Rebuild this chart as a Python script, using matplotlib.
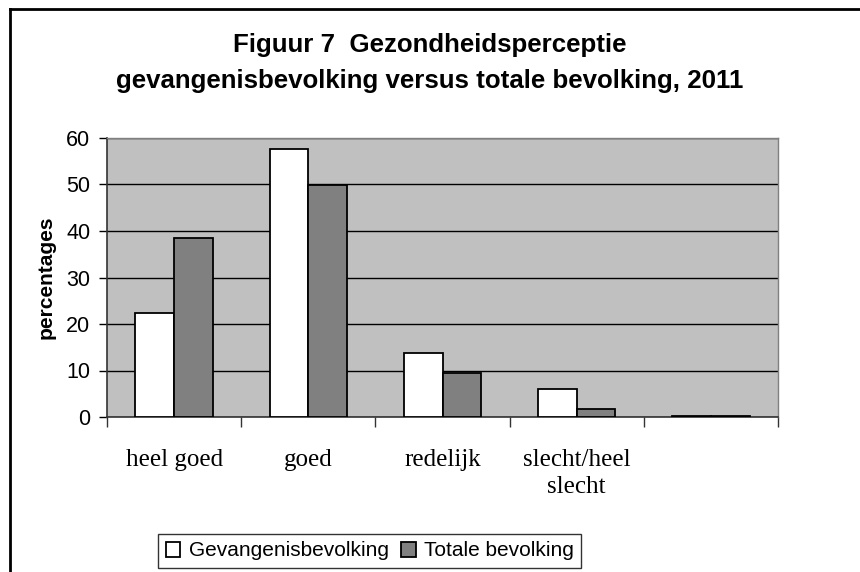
import matplotlib
matplotlib.use("Agg")
import matplotlib.pyplot as plt
import numpy as np
from matplotlib.lines import Line2D
from matplotlib.ticker import FixedLocator

categories = ["heel goed", "goed", "redelijk", "slecht/heel\nslecht", ""]
gevangenis = [22.3, 57.6, 13.8, 6.0, 0.3]
totaal = [38.5, 49.8, 9.5, 1.7, 0.3]
series_names = ["Gevangenisbevolking", "Totale bevolking"]
yticks = [0, 10, 20, 30, 40, 50, 60]

fig = plt.figure(figsize=(8.6, 5.72), dpi=100)
ax = fig.add_axes([107/860, 1-417/572, (778-107)/860, (417-138)/572])
ax.set_facecolor("#C0C0C0")

x = np.arange(len(categories))
w = 0.288
b1 = ax.bar(x - w/2, gevangenis, w, color="white", edgecolor="black", linewidth=1.3, zorder=3,
            label=series_names[0])
b2 = ax.bar(x + w/2, totaal, w, color="#808080", edgecolor="black", linewidth=1.3, zorder=3,
            label=series_names[1])

ax.set_xlim(-0.5, len(categories) - 0.5)
ax.set_ylim(0, 60)
ax.set_yticks(yticks)
ax.yaxis.grid(True, color="black", linewidth=1.0, zorder=1)
ax.set_axisbelow(True)

ax.set_xticks(x)
ax.set_xticklabels(categories, fontfamily="Liberation Serif", fontsize=18, linespacing=1.3)
ax.tick_params(axis="x", which="major", length=0, pad=23)
ax.xaxis.set_minor_locator(FixedLocator(np.arange(-0.5, len(categories), 1.0)))
ax.tick_params(axis="x", which="minor", length=7, width=1, color="#333333", direction="out")
ax.tick_params(axis="y", length=6, width=1, direction="out", pad=6, labelsize=15.5)
for lab in ax.get_yticklabels():
    lab.set_fontfamily("Liberation Sans")

for s in ["left", "bottom"]:
    ax.spines[s].set_color("#333333")
    ax.spines[s].set_linewidth(1.2)
for s in ["top", "right"]:
    ax.spines[s].set_color("#808080")
    ax.spines[s].set_linewidth(1.0)

ax.set_ylabel("percentages", fontfamily="Liberation Sans", fontweight="bold", fontsize=15, labelpad=8)

fig.text(0.5, 1-63/572, "Figuur 7  Gezondheidsperceptie\ngevangenisbevolking versus totale bevolking, 2011",
         ha="center", va="center", fontfamily="Liberation Sans", fontweight="bold", fontsize=18.6,
         linespacing=1.6)

leg = fig.legend(handles=[b1, b2], labels=series_names, loc="center", bbox_to_anchor=(0.43, 1-551/572),
                 ncol=2, frameon=True, fancybox=False, edgecolor="black", handlelength=0.7, handleheight=0.7,
                 handletextpad=0.4, columnspacing=0.6, borderpad=0.35,
                 prop={"family": "Liberation Sans", "size": 15})
leg.get_frame().set_linewidth(1.0)

fig.add_artist(Line2D([10/860, 1.0], [1-9/572, 1-9/572], color="black", linewidth=2, transform=fig.transFigure))
fig.add_artist(Line2D([10/860, 10/860], [0, 1-9/572], color="black", linewidth=2, transform=fig.transFigure))

fig.savefig("out.png", dpi=100)
